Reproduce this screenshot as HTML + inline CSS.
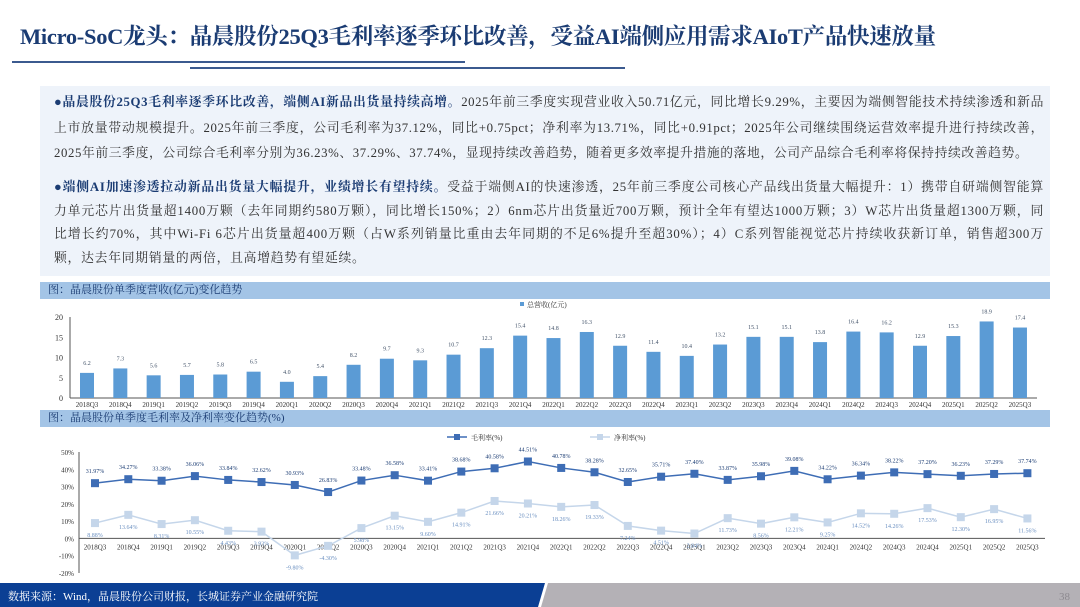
<!DOCTYPE html>
<html><head><meta charset="utf-8">
<style>
body{margin:0;width:1080px;height:607px;overflow:hidden;background:#fff;position:relative;font-family:"Liberation Serif","Noto Serif CJK SC",serif;}
.abs{position:absolute}
#title{left:20px;top:19px;font-size:22.5px;font-weight:bold;color:#1b3c73;white-space:nowrap;letter-spacing:-0.3px}
#box{left:40px;top:86px;width:1010px;height:190px;background:#eef3fa}
.p{position:absolute;left:14px;width:990px;font-size:12.8px;line-height:25.5px;color:#333;text-align:justify;text-align-last:left;letter-spacing:0.6px}
.p b{color:#1b3c73}
.hdr{position:absolute;left:40px;width:1010px;height:17px;background:#a3c4e6;font-size:11px;color:#1b3c73;line-height:17px;padding-left:8px;box-sizing:border-box}
svg text{font-family:"Liberation Serif","Noto Serif CJK SC",serif}
</style></head><body>
<div id="title" class="abs">Micro-SoC龙头：晶晨股份25Q3毛利率逐季环比改善，受益AI端侧应用需求AIoT产品快速放量</div>
<div class="abs" style="left:12px;top:61px;width:453px;height:2px;background:#3b5a8f"></div>
<div class="abs" style="left:190px;top:67px;width:435px;height:2px;background:#3b5a8f"></div>
<div id="box" class="abs">
<div class="p" style="top:4px"><b>●晶晨股份25Q3毛利率逐季环比改善，端侧AI新品出货量持续高增。</b>2025年前三季度实现营业收入50.71亿元，同比增长9.29%，主要因为端侧智能技术持续渗透和新品上市放量带动规模提升。2025年前三季度，公司毛利率为37.12%，同比+0.75pct；净利率为13.71%，同比+0.91pct；2025年公司继续围绕运营效率提升进行持续改善，2025年前三季度，公司综合毛利率分别为36.23%、37.29%、37.74%，显现持续改善趋势，随着更多效率提升措施的落地，公司产品综合毛利率将保持持续改善趋势。</div>
<div class="p" style="top:90px;line-height:23.5px;letter-spacing:0.75px"><b>●端侧AI加速渗透拉动新品出货量大幅提升，业绩增长有望持续。</b>受益于端侧AI的快速渗透，25年前三季度公司核心产品线出货量大幅提升：1）携带自研端侧智能算力单元芯片出货量超1400万颗（去年同期约580万颗），同比增长150%；2）6nm芯片出货量近700万颗，预计全年有望达1000万颗；3）W芯片出货量超1300万颗，同比增长约70%，其中Wi-Fi 6芯片出货量超400万颗（占W系列销量比重由去年同期的不足6%提升至超30%）；4）C系列智能视觉芯片持续收获新订单，销售超300万颗，达去年同期销量的两倍，且高增趋势有望延续。</div>
</div>
<div class="hdr" style="top:282px">图：晶晨股份单季度营收(亿元)变化趋势</div>
<div class="hdr" style="top:410px">图：晶晨股份单季度毛利率及净利率变化趋势(%)</div>
<svg id="c1" class="abs" style="left:0;top:299px" width="1080" height="111"></svg>
<svg id="c2" class="abs" style="left:0;top:427px" width="1080" height="156"></svg>
<svg class="abs" style="left:0;top:583px" width="1080" height="24">
<polygon points="0,0 545,0 538,24 0,24" fill="#0b3f94"/>
<polygon points="548,0 1080,0 1080,24 541,24" fill="#b4b1b6"/>
<text x="8" y="17" font-size="11" fill="#fff">数据来源：Wind，晶晨股份公司财报，长城证券产业金融研究院</text>
<text x="1070" y="17" font-size="11" fill="#8d8a90" text-anchor="end">38</text>
</svg>
<script>
const categories=["2018Q3","2018Q4","2019Q1","2019Q2","2019Q3","2019Q4","2020Q1","2020Q2","2020Q3","2020Q4","2021Q1","2021Q2","2021Q3","2021Q4","2022Q1","2022Q2","2022Q3","2022Q4","2023Q1","2023Q2","2023Q3","2023Q4","2024Q1","2024Q2","2024Q3","2024Q4","2025Q1","2025Q2","2025Q3"];
const revenue=[6.2,7.3,5.6,5.7,5.8,6.5,4.0,5.4,8.2,9.7,9.3,10.7,12.3,15.4,14.8,16.3,12.9,11.4,10.4,13.2,15.1,15.1,13.8,16.4,16.2,12.9,15.3,18.9,17.4];
const grossMargin=[31.97,34.27,33.38,36.06,33.84,32.62,30.93,26.83,33.48,36.58,33.41,38.68,40.58,44.51,40.78,38.28,32.65,35.71,37.40,33.87,35.98,39.08,34.22,36.34,38.22,37.20,36.23,37.29,37.74];
const netMargin=[8.88,13.64,8.31,10.55,4.43,3.93,-9.80,-4.30,5.98,13.15,9.60,14.91,21.66,20.21,18.26,19.33,7.24,4.51,2.84,11.73,8.56,12.21,9.25,14.52,14.26,17.53,12.30,16.95,11.56];
const revTicks=[0,5,10,15,20];
const pctTicks=[-20,-10,0,10,20,30,40,50];
const NS="http://www.w3.org/2000/svg";
function mk(svg,tag,a,txt){const e=document.createElementNS(NS,tag);for(const k in a)e.setAttribute(k,a[k]);if(txt!==undefined)e.textContent=txt;svg.appendChild(e);return e;}
(function(){
const s=document.getElementById('c1');
const x0=87,step=33.32,yb=99,yt=18;
const y=v=>yb-(v-0)/20*(yb-yt);
const x=i=>x0+i*step;
const ax=mk(s,'line',{x1:70,y1:yt,x2:70,y2:yb,stroke:'#555','stroke-width':1});

const bx=mk(s,'line',{x1:70,y1:yb,x2:1037,y2:yb,stroke:'#555','stroke-width':1});

revTicks.forEach(t=>{const e=mk(s,'text',{x:63,y:y(t)+3,'font-size':8,'text-anchor':'end',fill:'#333'},t);
});
categories.forEach((c,i)=>{
const r=mk(s,'rect',{x:x(i)-7,y:y(revenue[i]),width:14,height:yb-y(revenue[i]),fill:'#5b9bd5'});

const v=mk(s,'text',{x:x(i),y:y(revenue[i])-8,'font-size':6,'text-anchor':'middle',fill:'#44546a'},revenue[i].toFixed(1));

const l=mk(s,'text',{x:x(i),y:yb+9,'font-size':7,'text-anchor':'middle',fill:'#333'},c);

});
const lg=mk(s,'rect',{x:520,y:3,width:4,height:4,fill:'#5b9bd5'});

const lt=mk(s,'text',{x:527,y:8,'font-size':7,fill:'#333'},'总营收(亿元)');

})();
(function(){
const s=document.getElementById('c2');
const x0=95,step=33.3,y50=25,ym20=146;
const y=v=>y50+(50-v)/70*(ym20-y50);
const x=i=>x0+i*step;
const ax=mk(s,'line',{x1:79,y1:y50,x2:79,y2:ym20,stroke:'#555'});

const bx=mk(s,'line',{x1:79,y1:y(0),x2:1045,y2:y(0),stroke:'#555'});

pctTicks.forEach(t=>{const e=mk(s,'text',{x:74,y:y(t)+3,'font-size':7,'text-anchor':'end',fill:'#333'},t+'%');
});
categories.forEach((c,i)=>{const l=mk(s,'text',{x:x(i),y:y(0)+11,'font-size':7,'text-anchor':'middle',fill:'#333'},c);
});
function series(vals,color,name,labelAbove,lblColor){
const p=mk(s,'polyline',{points:vals.map((v,i)=>x(i)+','+y(v)).join(' '),fill:'none',stroke:color,'stroke-width':1.5});

vals.forEach((v,i)=>{
const m=mk(s,'rect',{x:x(i)-4,y:y(v)-4,width:8,height:8,fill:color});

const t=mk(s,'text',{x:x(i),y:labelAbove?y(v)-10:y(v)+14,'font-size':6,'text-anchor':'middle',fill:lblColor},v.toFixed(2)+'%');

});}
series(netMargin,'#c5d6ea','net-margin',false,'#6a8fc0');
series(grossMargin,'#3e6db5','gross-margin',true,'#1b3c73');
const l1=mk(s,'line',{x1:447,y1:10,x2:467,y2:10,stroke:'#3e6db5','stroke-width':1.5});

const r1=mk(s,'rect',{x:454,y:7,width:6,height:6,fill:'#3e6db5'});

const t1=mk(s,'text',{x:471,y:13,'font-size':7,fill:'#333'},'毛利率(%)');

const l2=mk(s,'line',{x1:590,y1:10,x2:610,y2:10,stroke:'#c5d6ea','stroke-width':1.5});

const r2=mk(s,'rect',{x:597,y:7,width:6,height:6,fill:'#c5d6ea'});

const t2=mk(s,'text',{x:614,y:13,'font-size':7,fill:'#333'},'净利率(%)');

})();
</script>
</body></html>
